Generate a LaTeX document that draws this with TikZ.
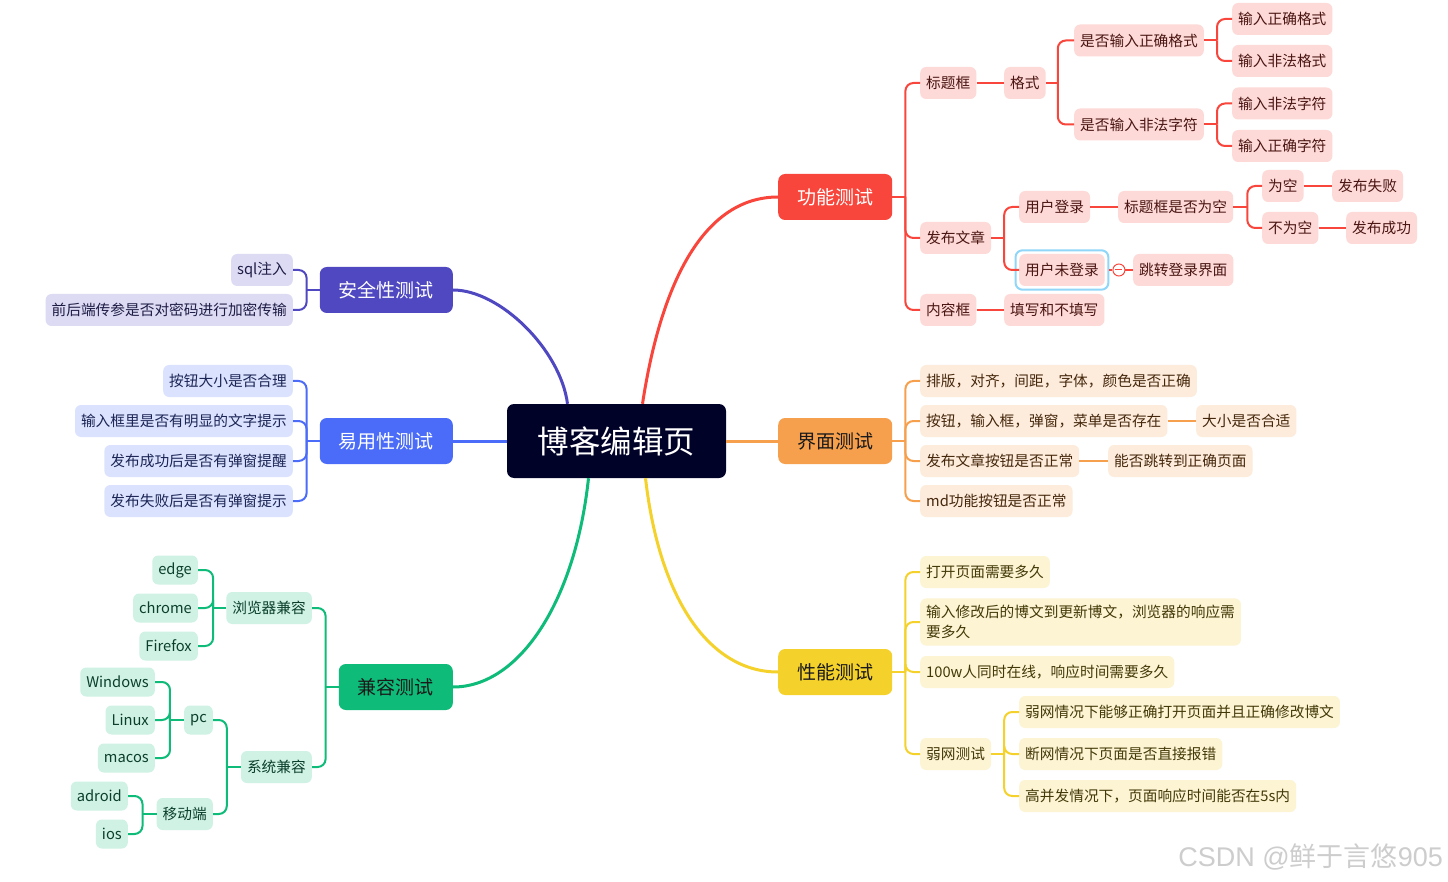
\documentclass[tikz,border=0pt]{standalone}
\usepackage{fontspec}
\setmainfont{Noto Sans CJK SC}
\newfontfamily\wmlat{Liberation Sans}
\usetikzlibrary{fit,calc}
\definecolor{cCenter}{HTML}{000228}
\definecolor{cRed}{HTML}{F8463C}
\definecolor{cOrange}{HTML}{F6A04D}
\definecolor{cYellow}{HTML}{F4D22B}
\definecolor{cPurple}{HTML}{4F48C1}
\definecolor{cBlue}{HTML}{4A6CF8}
\definecolor{cGreen}{HTML}{0EBB79}
\definecolor{lRed}{HTML}{FDDAD7}
\definecolor{lOrange}{HTML}{FDEBDC}
\definecolor{lYellow}{HTML}{FDF4D3}
\definecolor{lPurple}{HTML}{DCDBF3}
\definecolor{lBlue}{HTML}{DBE2FE}
\definecolor{lGreen}{HTML}{CFF2E4}
\definecolor{tRed}{HTML}{4A1512}
\definecolor{tOrange}{HTML}{45280C}
\definecolor{tYellow}{HTML}{433908}
\definecolor{tPurple}{HTML}{1F1C45}
\definecolor{tBlue}{HTML}{1B2555}
\definecolor{tGreen}{HTML}{0B3F2B}
\definecolor{tDark}{HTML}{1A1A1A}
\definecolor{cSel}{HTML}{8FD6F8}
\definecolor{cMark}{HTML}{CDCDCD}
\begin{document}
\begin{tikzpicture}[x=1pt,y=-1pt,
  leafbox/.style={rounded corners=6pt, inner xsep=6pt, inner ysep=0pt, minimum height=32pt, font=\fontsize{14.7}{19.5}\selectfont},
  latin/.style={minimum height=29pt},
  rleaf/.style={leafbox, fill=lRed, text=tRed, anchor=west},
  oleaf/.style={leafbox, fill=lOrange, text=tOrange, anchor=west},
  yleaf/.style={leafbox, fill=lYellow, text=tYellow, anchor=west},
  pleaf/.style={leafbox, fill=lPurple, text=tPurple, anchor=east},
  bleaf/.style={leafbox, fill=lBlue, text=tBlue, anchor=east},
  gleaf/.style={leafbox, fill=lGreen, text=tGreen, anchor=east},
  topic/.style={rounded corners=7pt, inner xsep=19pt, inner ysep=0pt, minimum height=46pt, font=\fontsize{19}{23}\selectfont},
  rtopic/.style={topic, anchor=west},
  ltopic/.style={topic, anchor=east},
  mainline/.style={line width=3pt},
  bline/.style={line width=2pt, rounded corners=8pt},
  foldmark/.style={circle, draw=cRed, fill=white, line width=1pt, minimum size=12pt, inner sep=0pt,
    path picture={\draw[cRed,line width=1pt] ([xshift=-3.5pt]path picture bounding box.center) -- ([xshift=3.5pt]path picture bounding box.center);}},
]
\fill[white] (0,0) rectangle (1448,882);
\useasboundingbox (0,0) rectangle (1448,882);

% center
\node[fill=cCenter, text=white, rounded corners=7pt, minimum width=219pt, minimum height=74pt, inner sep=0pt, font=\fontsize{31.5}{36}\selectfont] (c) at (616.5,441) {博客编辑页};

% topics
\node[rtopic, fill=cRed, text=white] (gn) at (778,197) {功能测试};
\node[rtopic, fill=cOrange, text=tDark] (jm) at (778,441) {界面测试};
\node[rtopic, fill=cYellow, text=tDark] (xn) at (778,672) {性能测试};
\node[ltopic, fill=cPurple, text=white] (aq) at (453,290) {安全性测试};
\node[ltopic, fill=cBlue, text=white] (yy) at (453,441) {易用性测试};
\node[ltopic, fill=cGreen, text=tDark] (jr) at (453,687) {兼容测试};

% red branch
\node[rleaf] (bt) at (920,83) {标题框};
\node[rleaf] (fb) at (920,238) {发布文章};
\node[rleaf] (nr) at (920,310) {内容框};
\node[rleaf] (gs) at (1004,83) {格式};
\node[rleaf] (zq) at (1074,40.5) {是否输入正确格式};
\node[rleaf] (ff) at (1074,124.5) {是否输入非法字符};
\node[rleaf] (l1) at (1232,19) {输入正确格式};
\node[rleaf] (l2) at (1232,61) {输入非法格式};
\node[rleaf] (l3) at (1232,103.5) {输入非法字符};
\node[rleaf] (l4) at (1232,146) {输入正确字符};
\node[rleaf] (dl) at (1019,207) {用户登录};
\node[rleaf] (wd) at (1019,270) {用户未登录};
\node[fit=(wd), inner sep=3.5pt, draw=cSel, line width=2pt, rounded corners=7pt] (sel) {};
\node[rleaf] (kk) at (1118,207) {标题框是否为空};
\node[rleaf] (wk) at (1262,186) {为空};
\node[rleaf] (bk) at (1262,228) {不为空};
\node[rleaf] (sb) at (1332,186) {发布失败};
\node[rleaf] (cg) at (1346,228) {发布成功};
\node[foldmark] (fold) at ($(wd.east)+(14,0)$) {};
\node[rleaf] (tz) at (1133,270) {跳转登录界面};
\node[rleaf] (tx) at (1004,310) {填写和不填写};

% orange branch
\node[oleaf] (o1) at (920,381) {排版，对齐，间距，字体，颜色是否正确};
\node[oleaf] (o2) at (920,421) {按钮，输入框，弹窗，菜单是否存在};
\node[oleaf] (o2a) at (1196,421) {大小是否合适};
\node[oleaf] (o3) at (920,461) {发布文章按钮是否正常};
\node[oleaf] (o3a) at (1108,461) {能否跳转到正确页面};
\node[oleaf] (o4) at (920,501) {md功能按钮是否正常};

% yellow branch
\node[yleaf] (y1) at (920,572) {打开页面需要多久};
\node[yleaf, align=left, inner ysep=7pt] (y2) at (920,622) {输入修改后的博文到更新博文，浏览器的响应需\\要多久};
\node[yleaf] (y3) at (920,672) {100w人同时在线，响应时间需要多久};
\node[yleaf] (y4) at (920,754) {弱网测试};
\node[yleaf] (y4a) at (1019,712) {弱网情况下能够正确打开页面并且正确修改博文};
\node[yleaf] (y4b) at (1019,754) {断网情况下页面是否直接报错};
\node[yleaf] (y4c) at (1019,796) {高并发情况下，页面响应时间能否在5s内};

% purple branch
\node[pleaf] (p1) at (293,270) {sql注入};
\node[pleaf] (p2) at (293,310) {前后端传参是否对密码进行加密传输};

% blue branch
\node[bleaf] (b1) at (293,381) {按钮大小是否合理};
\node[bleaf] (b2) at (293,421) {输入框里是否有明显的文字提示};
\node[bleaf] (b3) at (293,461) {发布成功后是否有弹窗提醒};
\node[bleaf] (b4) at (293,501) {发布失败后是否有弹窗提示};

% green branch
\node[gleaf] (g1) at (312,608) {浏览器兼容};
\node[gleaf] (g2) at (312,767) {系统兼容};
\node[gleaf, latin] (e1) at (198,570) {edge};
\node[gleaf, latin] (e2) at (198,608) {chrome};
\node[gleaf, latin] (e3) at (198,646) {Firefox};
\node[gleaf, latin] (pc) at (213,720) {pc};
\node[gleaf] (yd) at (213,814) {移动端};
\node[gleaf, latin] (w1) at (155,682) {Windows};
\node[gleaf, latin] (w2) at (155,720) {Linux};
\node[gleaf, latin] (w3) at (155,758) {macos};
\node[gleaf, latin] (m1) at (128,796) {adroid};
\node[gleaf, latin] (m2) at (128,834) {ios};

% watermark
\node[anchor=east, text=cMark, inner sep=0pt, font=\fontsize{27}{31}\selectfont] (wm) at (1443,857) {{\wmlat CSDN @}鲜于言悠{\wmlat 905}};

% main connectors
\draw[mainline, cRed] ($(c.north)+(26,0)$) .. controls +(19,-124) and +(-73,0) .. (gn.west);
\draw[mainline, cPurple] ($(c.north)+(-49,0)$) .. controls +(-7,-54) and +(47,0) .. (aq.east);
\draw[mainline, cBlue] (c.west) -- (yy.east);
\draw[mainline, cOrange] (c.east) -- (jm.west);
\draw[mainline, cYellow] ($(c.south)+(29,0)$) .. controls +(14,122) and +(-68,0) .. (xn.west);
\draw[mainline, cGreen] ($(c.south)+(-28,0)$) .. controls +(-13,122) and +(67,0) .. (jr.east);

% red connectors
\draw[bline, cRed] (gn.east) -- ++(13,0) coordinate (gnT);
\draw[bline, cRed] (gnT) |- (bt.west);
\draw[bline, cRed] (gnT) |- (fb.west);
\draw[bline, cRed] (gnT) |- (nr.west);
\draw[bline, cRed] (bt.east) -- (gs.west);
\draw[bline, cRed] (gs.east) -- ++(12,0) coordinate (gsT);
\draw[bline, cRed] (gsT) |- (zq.west);
\draw[bline, cRed] (gsT) |- (ff.west);
\draw[bline, cRed] (zq.east) -- ++(13,0) coordinate (zqT);
\draw[bline, cRed] (zqT) |- (l1.west);
\draw[bline, cRed] (zqT) |- (l2.west);
\draw[bline, cRed] (ff.east) -- ++(13,0) coordinate (ffT);
\draw[bline, cRed] (ffT) |- (l3.west);
\draw[bline, cRed] (ffT) |- (l4.west);
\draw[bline, cRed] (fb.east) -- ++(13,0) coordinate (fbT);
\draw[bline, cRed] (fbT) |- (dl.west);
\draw[bline, cRed] (fbT) |- (wd.west);
\draw[bline, cRed] (dl.east) -- (kk.west);
\draw[bline, cRed] (kk.east) -- ++(14,0) coordinate (kkT);
\draw[bline, cRed] (kkT) |- (wk.west);
\draw[bline, cRed] (kkT) |- (bk.west);
\draw[bline, cRed] (wk.east) -- (sb.west);
\draw[bline, cRed] (bk.east) -- (cg.west);
\draw[bline, cRed] (sel.east) -- (fold.west);
\draw[bline, cRed] (fold.east) -- (tz.west);
\draw[bline, cRed] (nr.east) -- (tx.west);

% orange connectors
\draw[bline, cOrange] (jm.east) -- ++(13,0) coordinate (jmT);
\draw[bline, cOrange] (jmT) |- (o1.west);
\draw[bline, cOrange] (jmT) |- (o2.west);
\draw[bline, cOrange] (jmT) |- (o3.west);
\draw[bline, cOrange] (jmT) |- (o4.west);
\draw[bline, cOrange] (o2.east) -- (o2a.west);
\draw[bline, cOrange] (o3.east) -- (o3a.west);

% yellow connectors
\draw[bline, cYellow] (xn.east) -- ++(13,0) coordinate (xnT);
\draw[bline, cYellow] (xnT) |- (y1.west);
\draw[bline, cYellow] (xnT) |- (y2.west);
\draw[bline, cYellow] (xnT) |- (y3.west);
\draw[bline, cYellow] (xnT) |- (y4.west);
\draw[bline, cYellow] (y4.east) -- ++(13,0) coordinate (y4T);
\draw[bline, cYellow] (y4T) |- (y4a.west);
\draw[bline, cYellow] (y4T) |- (y4b.west);
\draw[bline, cYellow] (y4T) |- (y4c.west);

% purple connectors
\draw[bline, cPurple] (aq.west) -- ++(-13,0) coordinate (aqT);
\draw[bline, cPurple] (aqT) |- (p1.east);
\draw[bline, cPurple] (aqT) |- (p2.east);

% blue connectors
\draw[bline, cBlue] (yy.west) -- ++(-13,0) coordinate (yyT);
\draw[bline, cBlue] (yyT) |- (b1.east);
\draw[bline, cBlue] (yyT) |- (b2.east);
\draw[bline, cBlue] (yyT) |- (b3.east);
\draw[bline, cBlue] (yyT) |- (b4.east);

% green connectors
\draw[bline, cGreen] (jr.west) -- ++(-13,0) coordinate (jrT);
\draw[bline, cGreen] (jrT) |- (g1.east);
\draw[bline, cGreen] (jrT) |- (g2.east);
\draw[bline, cGreen] (g1.west) -- ++(-13,0) coordinate (g1T);
\draw[bline, cGreen] (g1T) |- (e1.east);
\draw[bline, cGreen] (g1T) |- (e2.east);
\draw[bline, cGreen] (g1T) |- (e3.east);
\draw[bline, cGreen] (g2.west) -- ++(-14,0) coordinate (g2T);
\draw[bline, cGreen] (g2T) |- (pc.east);
\draw[bline, cGreen] (g2T) |- (yd.east);
\draw[bline, cGreen] (pc.west) -- ++(-14,0) coordinate (pcT);
\draw[bline, cGreen] (pcT) |- (w1.east);
\draw[bline, cGreen] (pcT) |- (w2.east);
\draw[bline, cGreen] (pcT) |- (w3.east);
\draw[bline, cGreen] (yd.west) -- ++(-14,0) coordinate (ydT);
\draw[bline, cGreen] (ydT) |- (m1.east);
\draw[bline, cGreen] (ydT) |- (m2.east);
\end{tikzpicture}
\end{document}
